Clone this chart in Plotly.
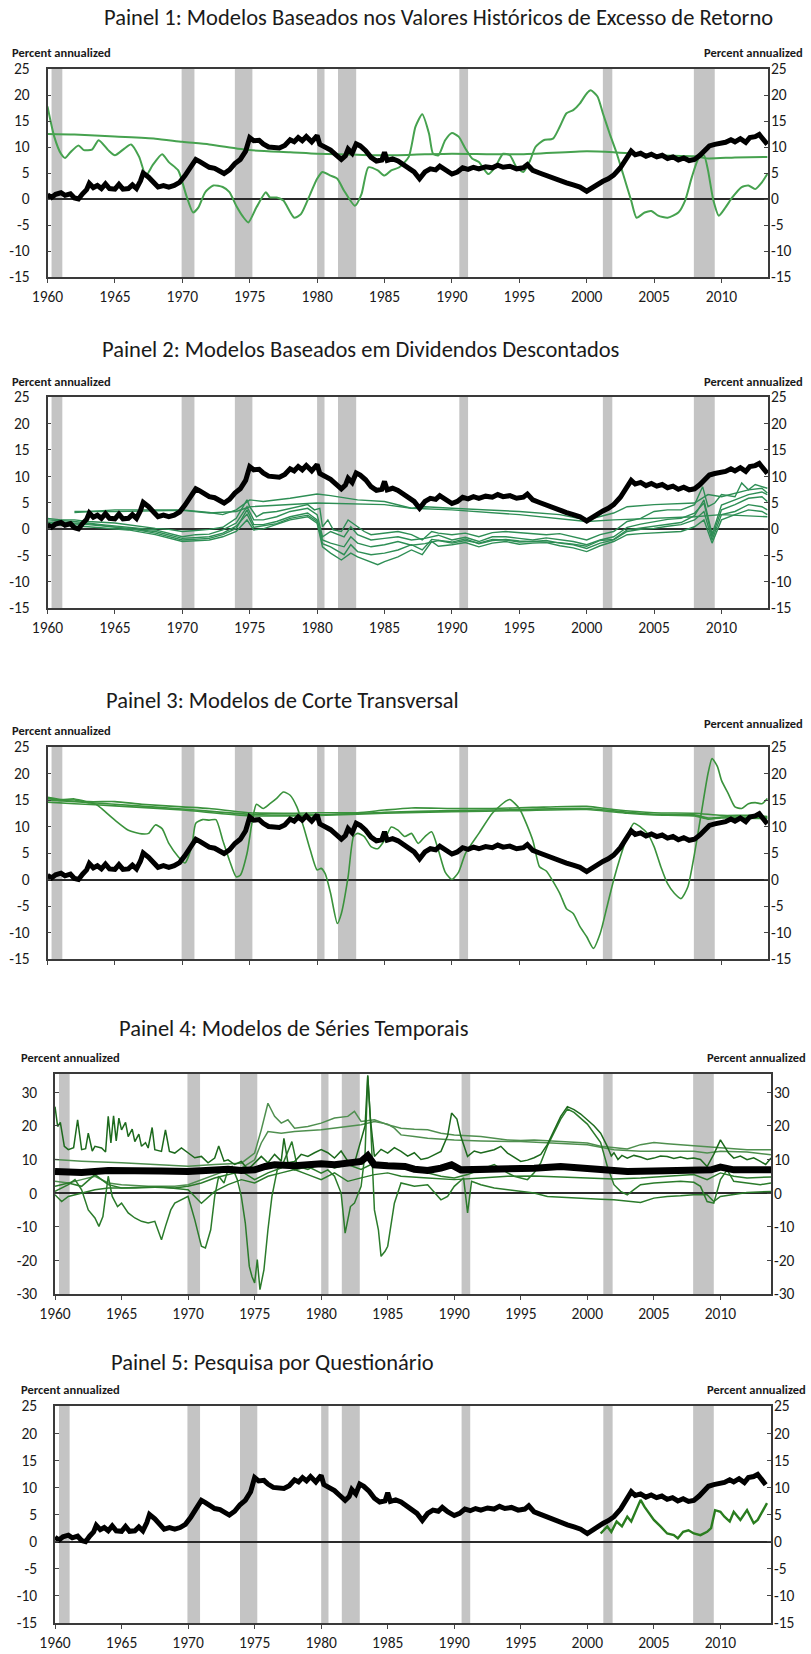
import plotly.graph_objects as go

# ---------------- DATA ----------------
X_TICKS = [1960, 1965, 1970, 1975, 1980, 1985, 1990, 1995, 2000, 2005, 2010]
Y_TICKS_STD = [-15, -10, -5, 0, 5, 10, 15, 20, 25]
Y_TICKS_P4 = [-30, -20, -10, 0, 10, 20, 30]

RECESSIONS = [(1960.3, 1961.1), (1969.95, 1970.9), (1973.9, 1975.2), (1980.0, 1980.55),
              (1981.55, 1982.9), (1990.55, 1991.2), (2001.2, 2001.9), (2007.95, 2009.5)]

TITLES = ["Painel 1: Modelos Baseados nos Valores Históricos de Excesso de Retorno",
          "Painel 2: Modelos Baseados em Dividendos Descontados",
          "Painel 3: Modelos de Corte Transversal",
          "Painel 4: Modelos de Séries Temporais",
          "Painel 5: Pesquisa por Questionário"]
UNIT_LABEL = "Percent annualized"

# average equity risk premium (black line, panels 1,2,3,5)
BLACK = [(1960.0, 0.8), (1960.3, 0.3), (1960.6, 0.9), (1961.0, 1.2), (1961.3, 0.7), (1961.7, 1.0),
         (1962.0, 0.2), (1962.3, 0.0), (1962.6, 1.0), (1962.9, 1.8), (1963.1, 3.0), (1963.4, 2.2),
         (1963.7, 2.6), (1964.0, 2.0), (1964.3, 2.9), (1964.6, 2.0), (1965.0, 1.9), (1965.3, 2.8),
         (1965.6, 1.9), (1966.0, 2.0), (1966.3, 2.7), (1966.6, 2.0), (1966.9, 3.5), (1967.1, 5.0),
         (1967.5, 4.2), (1967.9, 3.0), (1968.2, 2.3), (1968.6, 2.6), (1969.0, 2.3), (1969.4, 2.6),
         (1969.8, 3.2), (1970.2, 4.5), (1970.6, 6.0), (1971.0, 7.6), (1971.3, 7.2), (1971.7, 6.5),
         (1972.0, 6.1), (1972.4, 5.9), (1972.8, 5.3), (1973.1, 4.9), (1973.5, 5.6), (1973.9, 6.8),
         (1974.3, 7.6), (1974.7, 9.2), (1975.0, 11.8), (1975.3, 11.2), (1975.7, 11.3), (1976.0, 10.6),
         (1976.4, 10.0), (1976.8, 10.0), (1977.2, 9.8), (1977.6, 10.3), (1978.0, 11.4), (1978.3, 11.0),
         (1978.6, 11.8), (1978.9, 11.2), (1979.2, 12.0), (1979.6, 11.0), (1980.0, 12.2), (1980.2, 10.5),
         (1980.6, 9.9), (1981.0, 9.4), (1981.4, 8.5), (1981.8, 7.6), (1982.1, 8.3), (1982.3, 9.6),
         (1982.6, 8.8), (1982.9, 10.6), (1983.2, 10.2), (1983.6, 9.3), (1984.0, 8.0), (1984.4, 7.3),
         (1984.8, 7.5), (1985.0, 9.0), (1985.2, 7.4), (1985.6, 7.7), (1986.0, 7.3), (1986.4, 6.6),
         (1986.8, 5.8), (1987.2, 5.2), (1987.6, 3.9), (1988.0, 5.2), (1988.4, 5.8), (1988.8, 5.6),
         (1989.1, 6.3), (1989.5, 5.5), (1990.0, 4.8), (1990.4, 5.2), (1990.8, 6.0), (1991.2, 5.7),
         (1991.6, 6.1), (1992.0, 5.8), (1992.5, 6.2), (1993.0, 6.0), (1993.4, 6.5), (1993.8, 6.1),
         (1994.3, 6.3), (1994.8, 5.8), (1995.3, 6.0), (1995.6, 6.6), (1996.0, 5.5), (1996.5, 5.0),
         (1997.0, 4.5), (1997.5, 4.1), (1998.0, 3.4), (1998.5, 3.1), (1999.0, 2.7), (1999.5, 2.3),
         (2000.0, 1.5), (2000.4, 2.2), (2000.8, 2.8), (2001.2, 3.4), (2001.6, 3.9), (2002.0, 4.6),
         (2002.5, 6.0), (2002.9, 7.6), (2003.3, 9.2), (2003.6, 8.5), (2004.0, 8.8), (2004.4, 8.2),
         (2004.8, 8.6), (2005.2, 8.1), (2005.6, 8.4), (2006.0, 7.8), (2006.4, 8.1), (2006.8, 7.5),
         (2007.2, 7.9), (2007.6, 7.4), (2008.0, 7.6), (2008.4, 8.4), (2008.8, 9.5), (2009.1, 10.2),
         (2009.5, 10.5), (2009.9, 10.7), (2010.3, 10.9), (2010.7, 11.4), (2011.0, 11.0), (2011.4, 11.6),
         (2011.8, 10.9), (2012.1, 11.8), (2012.5, 12.0), (2012.8, 12.4), (2013.1, 11.6), (2013.4, 10.5)]

# Panel 1: historical excess return models
P1_A = [(1960, 12.5), (1962, 12.4), (1965, 12.0), (1968, 11.6), (1970, 11.0), (1972, 10.5),
        (1975, 9.4), (1978, 9.0), (1980, 8.7), (1983, 8.5), (1985, 8.4), (1988, 8.6), (1990, 8.7),
        (1995, 8.6), (2000, 9.2), (2002, 9.0), (2005, 8.4), (2008, 8.2), (2009, 7.8), (2011, 8.0),
        (2013.4, 8.1)]
P1_B = [(1960.0, 17.8), (1960.5, 12.0), (1961.0, 8.7), (1961.3, 7.9), (1961.7, 9.0), (1962.3, 10.3),
        (1962.7, 9.4), (1963.3, 9.5), (1963.8, 11.3), (1964.5, 9.4), (1965.0, 8.4), (1965.7, 9.7),
        (1966.2, 10.5), (1966.8, 8.1), (1967.3, 4.5), (1967.8, 6.5), (1968.5, 8.6), (1969.0, 7.1),
        (1969.7, 5.5), (1970.3, 0.65), (1970.8, -2.6), (1971.2, -1.6), (1971.7, 1.3), (1972.3, 2.6),
        (1973.0, 2.3), (1973.5, 1.3), (1974.0, -1.3), (1974.5, -3.4), (1974.9, -4.5), (1975.5, -1.6),
        (1976.2, 1.3), (1976.5, 0.3), (1977.0, 0.3), (1977.5, -0.3), (1978.3, -3.6), (1978.8, -2.9),
        (1979.5, 1.0), (1980.0, 3.9), (1980.4, 5.2), (1981.0, 4.5), (1981.5, 3.9), (1982.0, 1.6),
        (1982.8, -1.3), (1983.3, 1.0), (1983.8, 6.1), (1984.5, 5.5), (1985.0, 4.5), (1985.5, 5.5),
        (1986.1, 6.1), (1986.8, 8.1), (1987.3, 13.9), (1987.8, 16.3), (1988.3, 12.6), (1988.6, 8.7),
        (1989.0, 8.4), (1989.5, 11.3), (1990.0, 12.7), (1990.5, 12.0), (1991.0, 9.7), (1991.5, 7.8),
        (1992.0, 7.1), (1992.7, 4.8), (1993.2, 6.1), (1993.8, 8.7), (1994.3, 8.4), (1994.8, 6.1),
        (1995.3, 5.2), (1995.8, 7.4), (1996.2, 10.0), (1996.8, 11.3), (1997.5, 11.6), (1998.0, 13.9),
        (1998.5, 16.5), (1999.0, 17.1), (1999.5, 18.4), (2000.0, 20.3), (2000.3, 20.9), (2000.8, 19.7),
        (2001.2, 16.5), (2001.7, 12.6), (2002.2, 9.0), (2002.7, 4.8), (2003.3, -0.3), (2003.7, -3.6),
        (2004.3, -2.6), (2004.8, -2.3), (2005.3, -3.2), (2006.0, -3.6), (2006.8, -2.6), (2007.3, -0.3),
        (2007.8, 4.2), (2008.3, 7.8), (2008.7, 8.4), (2009.0, 5.5), (2009.4, -0.3), (2009.8, -3.2),
        (2010.3, -1.6), (2010.8, 0.3), (2011.5, 2.3), (2012.0, 2.6), (2012.5, 1.9), (2013.0, 3.2),
        (2013.4, 4.8)]

# Panel 2: dividend discount models
P2_U1 = [(1962, 3.1), (1965, 3.6), (1970, 3.6), (1972, 3.1), (1973, 2.7), (1974, 3.6), (1975, 5.5),
         (1976, 5.2), (1978, 5.8), (1980, 6.6), (1981, 6.3), (1983, 5.5), (1985, 5.2), (1986, 4.6),
         (1987, 3.9), (1988, 4.2), (1990, 3.9), (1995, 3.3), (1998, 2.7), (2000, 1.7), (2002, 3.0),
         (2003, 4.2), (2005, 4.6), (2008, 4.9), (2009, 6.5), (2010, 6.1), (2011, 6.8), (2012, 7.4),
         (2013, 7.7), (2013.4, 6.8)]
P2_U2 = [(1962, 3.3), (1965, 3.3), (1970, 3.5), (1972, 3.0), (1974, 3.3), (1975, 4.2), (1980, 4.9),
         (1985, 4.6), (1987, 3.9), (1990, 3.6), (1995, 2.7), (2000, 1.4), (2002, 1.7), (2005, 2.0),
         (2008, 2.3), (2010, 2.7), (2013.4, 2.3)]
P2_V1 = [(1960, 2.0), (1961, 1.7), (1962, 1.7), (1963, 1.4), (1965, 1.1), (1967, 0.4), (1968, 0.1),
         (1969, -0.1), (1970, -0.5), (1971, -0.3), (1972, -0.1), (1973, 0.3), (1974, 2.0), (1974.8, 5.5),
         (1975, 4.2), (1975.5, 2.3), (1976, 3.0), (1977, 3.3), (1978, 3.9), (1979.3, 4.6), (1979.8, 3.6),
         (1980.2, 3.9), (1980.4, 0.4), (1980.8, 1.7), (1981.2, -0.2), (1981.8, -0.5), (1982.3, 1.7),
         (1983, 0.4), (1983.5, -0.5), (1984, -1.1), (1985, -0.8), (1986, -0.5), (1987, -1.1),
         (1987.8, -2.1), (1988.5, -0.5), (1989, -0.8), (1990, -1.1), (1991, -0.8), (1992, -1.5),
         (1993, -0.7), (1994, -0.5), (1995, -0.7), (1996, -1.0), (1997, -1.1), (1998, -0.9), (1999, -1.5),
         (2000, -2.1), (2001, -1.1), (2002, -0.5), (2003, 1.4), (2004, 2.0), (2005, 3.3), (2006, 3.6),
         (2007, 3.6), (2008, 4.6), (2008.6, 8.0), (2009, 4.2), (2009.5, 4.9), (2010, 6.5), (2011, 6.1),
         (2011.5, 8.7), (2012, 7.4), (2012.5, 8.4), (2013, 8.0), (2013.4, 7.7)]
P2_V2 = [(1960, 1.7), (1962, 1.4), (1964, 0.8), (1966, 0.3), (1968, -0.2), (1970, -1.5), (1971, -1.1),
         (1972, -1.0), (1973, -0.2), (1974, 1.1), (1974.8, 4.2), (1975.3, 1.7), (1976, 1.7), (1977, 2.3),
         (1978, 3.3), (1979.3, 3.9), (1980, 2.7), (1980.4, -1.5), (1981, -0.5), (1982, -1.5),
         (1982.5, 0.4), (1983, -1.1), (1984, -2.1), (1985, -1.8), (1986, -1.5), (1987, -2.1),
         (1988, -1.8), (1989, -1.2), (1990, -2.1), (1991, -1.6), (1992, -2.4), (1993, -1.5), (1994, -1.5),
         (1995, -1.8), (1996, -2.1), (1997, -1.7), (1998, -2.1), (1999, -2.4), (2000, -3.0), (2001, -2.1),
         (2002, -1.5), (2003, 0.3), (2004, 0.9), (2005, 1.4), (2006, 1.8), (2007, 2.0), (2008, 3.0),
         (2008.7, 4.9), (2009.3, -1.5), (2010, 3.6), (2011, 4.6), (2012, 5.8), (2013, 6.1), (2013.4, 5.2)]
P2_V3 = [(1960, 1.1), (1963, 0.8), (1966, 0.1), (1968, -0.8), (1970, -2.1), (1972, -1.8), (1973, -1.1),
         (1974, 0.1), (1974.8, 3.6), (1975.3, 0.8), (1976, 0.8), (1977, 1.4), (1978, 2.3), (1979.3, 3.0),
         (1980, 1.7), (1980.4, -2.1), (1981, -2.7), (1982, -3.4), (1982.5, -1.5), (1983, -2.7),
         (1984, -3.4), (1985, -3.0), (1986, -2.4), (1987, -3.1), (1988, -2.8), (1989, -2.2), (1990, -2.7),
         (1991, -2.2), (1992, -2.7), (1993, -2.0), (1994, -2.1), (1995, -2.5), (1996, -2.4), (1997, -2.2),
         (1998, -2.7), (1999, -3.0), (2000, -3.7), (2001, -2.7), (2002, -2.1), (2003, -0.5), (2004, -0.1),
         (2005, 0.1), (2006, 0.5), (2007, 0.8), (2008, 1.7), (2008.7, 3.3), (2009.3, -2.1), (2010, 2.7),
         (2011, 3.3), (2012, 4.6), (2013, 4.2), (2013.4, 3.6)]
P2_V4 = [(1960, 0.8), (1963, 0.4), (1966, -0.2), (1968, -1.1), (1970, -2.4), (1972, -2.1), (1973, -1.5),
         (1974, -0.5), (1974.8, 1.7), (1975.3, -0.2), (1976, 0.0), (1977, 0.8), (1978, 1.7), (1979.3, 2.3),
         (1980, 1.1), (1980.4, -3.4), (1981, -4.6), (1981.8, -5.9), (1982.5, -4.6), (1983, -5.3),
         (1984, -6.2), (1984.5, -6.8), (1985, -6.2), (1986, -5.3), (1987, -4.0), (1987.8, -4.9),
         (1988.5, -2.4), (1989, -3.3), (1990, -3.0), (1991, -2.6), (1992, -3.4), (1993, -2.7),
         (1994, -2.4), (1995, -2.9), (1996, -2.7), (1997, -2.6), (1998, -3.2), (1999, -3.6), (2000, -4.3),
         (2001, -3.2), (2002, -2.4), (2003, -1.1), (2004, -0.9), (2005, -0.8), (2006, -0.7), (2007, -0.5),
         (2008, 0.4), (2008.7, 1.7), (2009.3, -2.7), (2010, 1.7), (2011, 2.7), (2012, 3.6), (2013, 3.3),
         (2013.4, 2.7)]
P2_V5 = [(1960, 1.3), (1963, 1.0), (1966, 0.0), (1968, -0.5), (1970, -1.8), (1972, -1.5), (1973, -0.8),
         (1974, 0.5), (1974.8, 2.8), (1975.3, 0.3), (1977, 1.0), (1978, 2.0), (1979.3, 2.6), (1980, 1.4),
         (1980.4, -2.8), (1981, -3.4), (1982, -4.9), (1982.5, -3.0), (1983, -4.3), (1984, -4.9),
         (1985, -4.6), (1986, -4.0), (1987, -3.0), (1987.8, -4.0), (1988.5, -2.0), (1990, -2.5),
         (1991, -1.9), (1992, -2.8), (1993, -2.2), (1994, -2.0), (1995, -2.3), (1996, -2.4), (1998, -2.6),
         (1999, -2.9), (2000, -3.3), (2001, -2.2), (2002, -2.0), (2003, -0.2), (2005, 0.5), (2007, 1.2),
         (2008, 2.5), (2008.7, 5.5), (2009.3, -1.0), (2010, 4.5), (2011, 5.5), (2012, 6.5), (2013, 7.0),
         (2013.4, 6.5)]

# Panel 3: cross-sectional models
P3_S1 = [(1960, 15.5), (1961, 15.1), (1962, 15.2), (1963, 14.7), (1965, 14.7), (1967, 14.2),
         (1970, 13.7), (1972, 13.4), (1975, 12.6), (1978, 12.5), (1980, 12.6), (1983, 12.6),
         (1985, 13.1), (1987, 13.5), (1990, 13.4), (1993, 13.4), (1996, 13.6), (2000, 13.8),
         (2002, 13.2), (2005, 12.6), (2008, 12.5), (2010, 12.1), (2012, 12.1), (2013.4, 11.9)]
P3_S2 = [(1960, 15.0), (1962, 14.7), (1965, 14.2), (1970, 13.3), (1975, 12.3), (1980, 12.2),
         (1985, 12.7), (1990, 13.0), (1995, 13.2), (2000, 13.4), (2003, 12.7), (2005, 12.3),
         (2008, 12.2), (2009, 11.6), (2010, 11.8), (2013.4, 11.7)]
P3_S3 = [(1960, 14.6), (1962, 14.3), (1965, 13.9), (1970, 13.1), (1975, 12.0), (1980, 12.1),
         (1985, 12.5), (1990, 12.8), (1995, 13.0), (2000, 13.2), (2003, 12.5), (2005, 12.2),
         (2008, 12.0), (2009, 11.4), (2010, 11.6), (2013.4, 11.5)]
P3_V = [(1960, 15.3), (1961, 14.9), (1962, 15.0), (1963, 14.5), (1963.6, 14.2), (1964, 13.4),
        (1965, 11.2), (1966, 9.3), (1967, 8.6), (1967.5, 8.7), (1968, 10.3), (1968.5, 9.6), (1969, 6.8),
        (1969.7, 4.3), (1970.2, 3.1), (1970.7, 6.2), (1971, 10.6), (1971.5, 11.3), (1972, 11.2),
        (1972.5, 11.3), (1973, 7.4), (1973.5, 3.6), (1974, 0.5), (1974.3, 0.8), (1974.8, 4.9),
        (1975.2, 11.2), (1975.5, 14.2), (1976, 13.4), (1976.5, 14.3), (1977, 15.3), (1977.5, 16.5),
        (1978, 15.9), (1978.5, 13.7), (1979, 9.9), (1979.5, 5.5), (1980, 1.8), (1980.3, 2.1),
        (1980.6, 1.1), (1981, -2.6), (1981.5, -8.3), (1981.8, -6.4), (1982.3, 0.5), (1982.7, 8.1),
        (1983, 8.7), (1983.5, 8.1), (1984, 6.2), (1984.5, 5.8), (1985, 7.4), (1985.5, 9.9), (1986, 9.3),
        (1986.5, 8.1), (1987, 8.7), (1987.5, 6.8), (1988, 8.1), (1988.5, 9.0), (1989, 5.5), (1989.5, 1.4),
        (1990, 0.0), (1990.5, 1.4), (1991, 4.9), (1992, 8.7), (1993, 12.5), (1994, 14.8), (1994.3, 15.1),
        (1995, 13.4), (1996, 7.4), (1996.5, 2.4), (1997, 1.6), (1998, -2.6), (1998.5, -5.5),
        (1999, -6.4), (1999.5, -8.9), (2000, -10.8), (2000.5, -13.0), (2001, -10.2), (2001.5, -5.2),
        (2002, -0.1), (2002.5, 4.3), (2003, 8.1), (2003.5, 10.6), (2004, 9.9), (2004.5, 8.7),
        (2005, 6.2), (2005.5, 2.4), (2006, -0.8), (2006.5, -2.6), (2007, -3.6), (2007.5, -1.4),
        (2008, 4.9), (2008.5, 12.5), (2009, 20.0), (2009.3, 22.8), (2009.7, 21.3), (2010, 18.7),
        (2010.5, 16.2), (2011, 13.7), (2011.5, 13.4), (2012, 14.3), (2012.5, 14.5), (2013, 14.3),
        (2013.4, 15.3)]

# Panel 4: time-series models
P4_BLACK = [(1960, 6.4), (1962, 6.1), (1964, 6.7), (1966, 6.4), (1968, 6.6), (1970, 6.4), (1972, 6.9),
            (1973, 7.1), (1974, 6.7), (1975, 6.9), (1975.8, 7.9), (1976.5, 8.4), (1978, 8.1),
            (1980, 8.7), (1981, 8.4), (1982, 8.7), (1983, 9.4), (1983.5, 11.1), (1984, 8.4), (1985, 8.1),
            (1986.3, 7.9), (1987, 7.1), (1988, 6.7), (1989, 7.4), (1989.8, 8.4), (1990.5, 6.9),
            (1992, 6.9), (1994, 7.1), (1996, 7.4), (1998, 7.9), (2000, 7.4), (2001.5, 6.7), (2003, 6.4),
            (2005, 6.6), (2008, 6.7), (2009.3, 6.9), (2010, 7.7), (2011, 6.9), (2013.8, 6.9)]
P4_L1 = [(1960.0, 25.7), (1960.2, 19.8), (1960.4, 21.0), (1960.7, 13.9), (1961.0, 12.9), (1961.4, 13.5),
         (1961.7, 21.8), (1962.0, 12.9), (1962.3, 13.2), (1962.5, 17.8), (1962.8, 12.5), (1963.0, 13.9),
         (1963.5, 13.4), (1963.8, 12.2), (1964.0, 22.8), (1964.2, 14.9), (1964.4, 23.0), (1964.6, 15.5),
         (1964.8, 22.3), (1965.0, 18.8), (1965.3, 21.0), (1965.5, 16.8), (1965.8, 19.0), (1966.0, 15.3),
         (1966.3, 17.5), (1966.5, 13.9), (1966.8, 15.0), (1967.0, 13.4), (1967.3, 19.5), (1967.5, 12.9),
         (1968.0, 12.4), (1968.3, 18.8), (1968.6, 12.4), (1969.0, 11.9), (1969.5, 13.4), (1970.0, 11.9),
         (1970.5, 10.5), (1971.0, 10.9), (1971.5, 9.0), (1972.0, 10.4), (1972.3, 14.0), (1972.7, 9.5),
         (1973.0, 9.9), (1973.5, 8.5), (1974.0, 9.4), (1974.5, 7.0), (1975.0, 8.9), (1975.5, 10.9),
         (1976.0, 9.0), (1976.5, 11.5), (1977.0, 9.5), (1977.2, 16.3), (1977.5, 9.0), (1978.0, 9.4),
         (1978.5, 11.5), (1979.0, 10.9), (1979.5, 12.0), (1980.0, 12.9), (1980.5, 12.0), (1981.0, 10.4),
         (1981.5, 12.5), (1982.0, 9.5), (1982.5, 8.9), (1983.0, 15.8), (1983.3, 20.0), (1983.5, 35.0),
         (1983.7, 22.0), (1984.0, 10.9), (1984.5, 13.0), (1985.0, 11.9), (1985.5, 13.5), (1986.0, 12.4),
         (1986.5, 11.0), (1987.0, 12.0), (1987.5, 10.0), (1988.0, 10.4), (1988.5, 11.5), (1989.0, 12.4),
         (1989.5, 17.0), (1989.8, 23.8), (1990.2, 22.0), (1990.5, 16.8), (1991.0, 10.9), (1991.5, 12.5),
         (1992.0, 11.9), (1993.0, 12.9), (1993.5, 13.9), (1994.0, 11.9), (1995.0, 9.4), (1995.5, 9.8),
         (1996.0, 10.5), (1996.5, 11.5), (1997.0, 14.5), (1997.5, 18.5), (1998.0, 22.8), (1998.5, 25.7),
         (1999.0, 24.8), (1999.5, 23.5), (2000.0, 21.8), (2000.5, 20.0), (2001.0, 17.8), (2001.5, 13.9),
         (2001.8, 11.0), (2002.0, 12.0), (2002.3, 10.0), (2002.6, 11.2), (2003.0, 10.4), (2003.5, 11.2),
         (2004.0, 10.7), (2004.5, 10.0), (2005.0, 10.4), (2005.5, 11.0), (2006.0, 10.9), (2006.5, 10.3),
         (2007.0, 10.7), (2007.5, 10.2), (2008.0, 10.4), (2008.5, 10.0), (2009.0, 7.9), (2009.5, 11.5),
         (2010.0, 15.8), (2010.3, 14.0), (2010.6, 12.0), (2011.0, 10.4), (2011.5, 11.0), (2012.0, 9.9),
         (2012.5, 10.5), (2013.0, 9.4), (2013.4, 8.5), (2013.8, 10.4)]
P4_L2 = [(1960, 10.0), (1962, 9.5), (1965, 9.0), (1968, 8.5), (1970, 8.0), (1972, 8.5), (1974, 8.9),
         (1975, 11.9), (1975.5, 18.8), (1976, 26.7), (1976.5, 22.8), (1977, 20.8), (1977.5, 21.8),
         (1978, 19.3), (1979, 19.8), (1980, 20.8), (1981, 22.3), (1982, 22.8), (1982.5, 24.3),
         (1983, 21.3), (1984, 21.8), (1985, 20.3), (1986, 19.3), (1987, 19.0), (1988, 18.8), (1989, 17.8),
         (1990, 17.3), (1992, 16.8), (1994, 15.8), (1995, 15.6), (1996, 15.8), (1998, 15.3), (2000, 14.9),
         (2001, 13.9), (2002, 13.4), (2003, 13.1), (2004, 14.4), (2005, 15.0), (2006, 14.7), (2008, 14.1),
         (2010, 13.4), (2012, 12.9), (2013.8, 12.9)]
P4_L3 = [(1960, 3.5), (1961, 3.0), (1962, 4.0), (1963, 5.0), (1964, 3.0), (1965, 2.5), (1967, 2.0),
         (1969, 2.0), (1970, 2.5), (1971, 4.0), (1972, 5.4), (1973, 6.9), (1974, 7.4), (1975, 9.9),
         (1975.5, 14.9), (1976, 18.3), (1977, 17.8), (1978, 18.3), (1980, 18.8), (1981, 19.3),
         (1982, 19.8), (1983, 20.3), (1984, 21.3), (1985, 20.5), (1985.5, 19.3), (1986, 17.3),
         (1987, 16.8), (1988, 16.3), (1990, 15.8), (1992, 15.5), (1995, 15.3), (1997, 14.9), (2000, 14.4),
         (2002, 12.9), (2004, 12.4), (2006, 12.4), (2008, 12.4), (2009, 11.9), (2010, 12.4), (2012, 12.2),
         (2013.8, 11.4)]
P4_L4 = [(1960, 0.5), (1961, 2.5), (1961.5, 4.0), (1962, 1.0), (1962.5, -5.0), (1963, -7.4),
         (1963.3, -9.9), (1963.6, -7.0), (1964, 5.0), (1964.3, -1.0), (1964.7, -4.0), (1965, -3.0),
         (1965.5, -5.9), (1966, -7.4), (1966.5, -8.4), (1967, -8.9), (1967.5, -8.4), (1968, -13.9),
         (1968.3, -9.9), (1968.7, -5.0), (1969, -3.0), (1969.5, -2.0), (1970, -1.0), (1970.5, -7.9),
         (1971, -15.8), (1971.3, -16.3), (1971.7, -10.9), (1972, -1.0), (1972.3, 5.0), (1972.7, 3.0),
         (1973, 6.9), (1973.3, 7.9), (1973.7, 4.0), (1974, -1.0), (1974.3, -8.9), (1974.6, -21.8),
         (1974.8, -24.8), (1975, -26.7), (1975.2, -19.8), (1975.4, -28.7), (1975.7, -22.8), (1976, -10.9),
         (1976.3, -1.0), (1976.7, 6.9), (1977, 8.9), (1977.5, 7.9), (1978, 6.9), (1979, 7.9), (1979.5, 6.9),
         (1980, 5.9), (1980.5, 6.9), (1981, 5.0), (1981.5, 0.0), (1981.8, -11.9), (1982.2, -4.0),
         (1982.5, -3.0), (1983, 2.0), (1983.3, 11.9), (1983.5, 34.7), (1983.7, 21.8), (1984, -5.0),
         (1984.3, -10.9), (1984.5, -18.8), (1984.8, -17.3), (1985, -15.8), (1985.2, -10.9), (1985.5, -3.0),
         (1986, 3.0), (1987, 2.0), (1988, 2.5), (1989, -2.0), (1989.5, -1.0), (1990, 2.0), (1990.7, 4.5),
         (1991.0, -5.9), (1991.3, 3.5), (1992, 2.5), (1993, 1.5), (1994, 1.0), (1995, 0.3), (1996, 0.0),
         (1997, -1.0), (1999, -1.5), (2001, -1.8), (2002, -2.0), (2003, -2.5), (2004, -2.8), (2005, -1.5),
         (2006, -1.0), (2007, -0.8), (2008, -0.5), (2009, -0.5), (2009.5, -2.5), (2010, -1.0),
         (2011, -0.3), (2012, 0.2), (2013.8, 0.5)]
P4_L5 = [(1960, 2.0), (1961, 3.0), (1962, 2.0), (1963, 5.5), (1964, 2.5), (1965, 1.5), (1967, 1.8),
         (1969, 1.5), (1970, 2.0), (1971, 3.0), (1972, 4.5), (1973, 5.5), (1974, 6.5), (1975, 4.0),
         (1976, 6.0), (1977, 7.5), (1977.8, 15.3), (1978.2, 8.0), (1979, 7.0), (1980, 9.0), (1981, 7.5),
         (1982, 8.5), (1983, 7.0), (1984, 9.0), (1985, 8.5), (1986.2, 8.0), (1987, 7.0), (1988, 6.0),
         (1989, 5.0), (1990, 4.5), (1991, 5.5), (1992, 7.0), (1993, 8.5), (1994, 6.0), (1994.5, 5.0),
         (1995, 4.5), (1995.5, 4.0), (1996, 6.0), (1996.5, 9.0), (1997, 14.0), (1997.5, 18.0),
         (1998, 22.0), (1998.5, 25.0), (1999, 24.0), (2000, 20.5), (2001, 15.0), (2001.5, 8.0),
         (2002, 2.5), (2002.5, 0.5), (2003, -0.5), (2003.5, 1.0), (2004, 2.5), (2005, 3.0), (2006, 3.2),
         (2007, 3.5), (2008, 3.2), (2008.5, 2.0), (2009, -2.5), (2009.5, -3.0), (2010, 4.0),
         (2010.5, 6.9), (2011, 3.5), (2012, 3.0), (2013, 2.5), (2013.8, 3.0)]
P4_L6 = [(1960, -0.5), (1960.5, -2.5), (1961, -1.0), (1962, 0.0), (1963, 1.0), (1964, 1.5), (1966, 1.5),
         (1968, 1.8), (1970, 1.0), (1971, -3.0), (1972, 0.5), (1973, 2.5), (1974, 4.0), (1975, 3.0),
         (1976, 5.0), (1977, 6.0), (1978, 7.0), (1979, 5.5), (1980, 4.0), (1981, 6.0), (1982, 3.5),
         (1983, 4.5), (1984, 5.5), (1985, 6.0), (1986, 5.0), (1988, 4.5), (1990, 4.0), (1992, 4.5),
         (1994, 5.0), (1996, 5.1), (1998, 4.8), (2000, 4.5), (2002, 4.2), (2004, 4.5), (2006, 5.0),
         (2008, 5.5), (2009, 4.0), (2010, 6.0), (2011, 5.0), (2012, 4.5), (2013.8, 4.8)]

# Panel 5: survey
P5_SURVEY = [(2001.0, 1.5), (2001.5, 2.8), (2001.8, 1.8), (2002.2, 3.7), (2002.6, 2.8), (2003.0, 4.6),
             (2003.3, 3.7), (2003.7, 5.8), (2004.0, 7.7), (2004.3, 6.4), (2004.7, 4.9), (2005.0, 4.0),
             (2005.5, 2.8), (2006.0, 1.5), (2006.5, 1.2), (2006.8, 0.6), (2007.2, 1.8), (2007.6, 2.1),
             (2008.0, 1.5), (2008.5, 1.2), (2009.0, 1.8), (2009.3, 2.5), (2009.6, 5.8), (2010.0, 5.5),
             (2010.3, 4.6), (2010.7, 3.7), (2011.0, 5.5), (2011.5, 4.0), (2012.0, 5.8), (2012.5, 3.4),
             (2012.8, 4.0), (2013.2, 5.8), (2013.5, 7.1)]

# ---------------- LAYOUT / STYLE ----------------
W, H = 811, 1654
FONT = "Carlito, Lato, 'Open Sans', sans-serif"

def fx(p):
    return p / W

def fy(p):
    return 1 - p / H

# plot boxes in pixels: left, right, top, bottom
PANELS = [
    dict(box=(47.5, 768, 69, 277), yr=(-15, 25), yt=Y_TICKS_STD, xr=(1960, 2013.45), xlab=True,
         title=(103, 18), pl=(11, 52), pr=(804, 52)),
    dict(box=(47.5, 768, 397, 608), yr=(-15, 25), yt=Y_TICKS_STD, xr=(1960, 2013.45), xlab=True,
         title=(101, 350), pl=(11, 381), pr=(804, 381)),
    dict(box=(47.5, 768, 747, 959), yr=(-15, 25), yt=Y_TICKS_STD, xr=(1960, 2013.45), xlab=False,
         title=(105, 700), pl=(11, 730), pr=(804, 724)),
    dict(box=(55, 771, 1074, 1294), yr=(-30, 35.4), yt=Y_TICKS_P4, xr=(1960, 2013.8), xlab=True,
         title=(118, 1028), pl=(20, 1057), pr=(807, 1057)),
    dict(box=(55, 771, 1406, 1623), yr=(-15, 25), yt=Y_TICKS_STD, xr=(1960, 2013.8), xlab=True,
         title=(110, 1362), pl=(20, 1389), pr=(807, 1389)),
]

fig = go.Figure()


def add_line(series, i, color, width, right=False, shape="linear", opacity=1.0):
    xs = [p[0] for p in series]
    ys = [p[1] for p in series]
    fig.add_trace(go.Scatter(
        x=xs, y=ys, mode="lines",
        line=dict(color=color, width=width, shape=shape, smoothing=0.6),
        opacity=opacity,
        xaxis=f"x{i}" if i > 1 else "x",
        yaxis=(f"y{i + 5}") if right else (f"y{i}" if i > 1 else "y"),
        hoverinfo="skip", showlegend=False))


G1 = "#46a24f"
G2 = "#2e8e55"
G3 = "#3a923c"
G4 = "#2b7b2b"
G4b = "#1d6a1d"
G5 = "#2a7d1f"

# Panel 1
add_line(P1_A, 1, G1, 2.0, shape="spline")
add_line(P1_B, 1, G1, 2.0, shape="spline")
add_line(BLACK, 1, "#000000", 5, right=True)
# Panel 2
for s in (P2_U1, P2_U2):
    add_line(s, 2, G2, 1.4)
for s in (P2_V1, P2_V2, P2_V3, P2_V4, P2_V5):
    add_line(s, 2, G2, 1.4)
add_line(BLACK, 2, "#000000", 5, right=True)
# Panel 3
for s in (P3_S1, P3_S2, P3_S3):
    add_line(s, 3, G3, 1.6, shape="spline")
add_line(P3_V, 3, G3, 1.6, shape="spline")
add_line(BLACK, 3, "#000000", 5, right=True)
# Panel 4
add_line(P4_L2, 4, "#4f8f4f", 1.5)
add_line(P4_L3, 4, "#4f8f4f", 1.5)
add_line(P4_L6, 4, G4, 1.4)
add_line(P4_L5, 4, G4, 1.5)
add_line(P4_L4, 4, G4, 1.5)
add_line(P4_L1, 4, G4b, 1.5)
add_line(P4_BLACK, 4, "#000000", 7, right=True)
# Panel 5
add_line(BLACK, 5, "#000000", 5, right=True)
add_line(P5_SURVEY, 5, G5, 2.4)

shapes = []
annotations = []
layout = dict(template="none", width=W, height=H, margin=dict(l=0, r=0, t=0, b=0, pad=0),
              autosize=False, paper_bgcolor="white", plot_bgcolor="white", showlegend=False,
              font=dict(family=FONT, color="#1a1a1a"))

TICKFONT = dict(size=15.5, family=FONT, color="#1a1a1a")

for k, p in enumerate(PANELS):
    i = k + 1
    L, R, T, B = p["box"]
    xname = "xaxis" if i == 1 else f"xaxis{i}"
    yname = "yaxis" if i == 1 else f"yaxis{i}"
    yname_r = f"yaxis{i + 5}"
    xref = "x" if i == 1 else f"x{i}"
    yref = "y" if i == 1 else f"y{i}"
    layout[xname] = dict(
        domain=[fx(L), fx(R)], range=list(p["xr"]), anchor=yref, automargin=False,
        tickmode="array", tickvals=X_TICKS, ticktext=[str(v) for v in X_TICKS],
        showticklabels=p["xlab"], ticks="outside", ticklen=4, tickcolor="#444", tickwidth=1,
        tickfont=TICKFONT, ticklabelstandoff=1,
        showgrid=False, zeroline=False, showline=True, mirror=True,
        linecolor="#3a3a3a", linewidth=1.5, fixedrange=True)
    layout[yname] = dict(
        domain=[fy(B), fy(T)], range=list(p["yr"]), anchor=xref, automargin=False,
        tickmode="array", tickvals=p["yt"], ticktext=[str(v) for v in p["yt"]],
        ticks="inside", ticklen=4, tickcolor="#444", tickwidth=1,
        tickfont=TICKFONT, ticklabelstandoff=13,
        showgrid=False, zeroline=True, zerolinecolor="#2a2a2a", zerolinewidth=1.5,
        showline=True, mirror=True, linecolor="#3a3a3a", linewidth=1.5, fixedrange=True)
    layout[yname_r] = dict(
        range=list(p["yr"]), overlaying=yref, anchor=xref, side="right", automargin=False,
        tickmode="array", tickvals=p["yt"], ticktext=[str(v) for v in p["yt"]],
        ticks="inside", ticklen=4, tickcolor="#444", tickwidth=1,
        tickfont=TICKFONT, ticklabelstandoff=2,
        showgrid=False, zeroline=False, showline=False, fixedrange=True)
    for (a, b) in RECESSIONS:
        shapes.append(dict(type="rect", xref=xref, yref=f"{yref} domain", x0=a, x1=b, y0=0, y1=1,
                           fillcolor="#c4c4c4", line=dict(width=0), layer="below"))
    tx, ty = p["title"]
    annotations.append(dict(text=TITLES[k], x=fx(tx), y=fy(ty), xref="paper", yref="paper",
                            xanchor="left", yanchor="middle", align="left", showarrow=False,
                            borderpad=0, font=dict(size=22.5, family=FONT, color="#1a1a1a")))
    plx, ply = p["pl"]
    prx, pry = p["pr"]
    annotations.append(dict(text=f"<b>{UNIT_LABEL}</b>", x=fx(plx), y=fy(ply), xref="paper", yref="paper",
                            xanchor="left", yanchor="middle", align="left", showarrow=False,
                            borderpad=0, font=dict(size=12.5, family=FONT, color="#1a1a1a")))
    annotations.append(dict(text=f"<b>{UNIT_LABEL}</b>", x=fx(prx), y=fy(pry), xref="paper", yref="paper",
                            xanchor="right", yanchor="middle", align="right", showarrow=False,
                            borderpad=0, font=dict(size=12.5, family=FONT, color="#1a1a1a")))

layout["shapes"] = shapes
layout["annotations"] = annotations
fig.update_layout(**layout)
fig.write_html("out.html")
